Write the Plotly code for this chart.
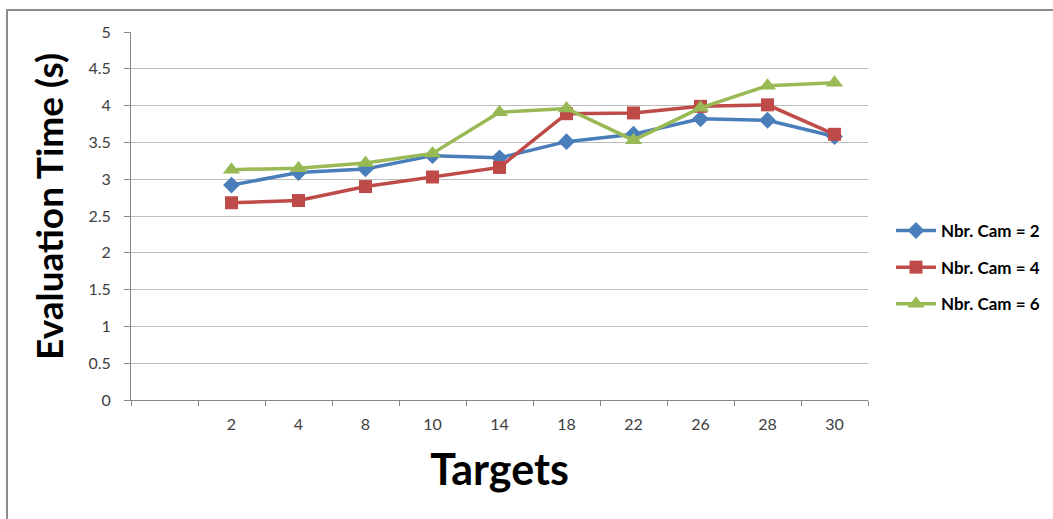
import plotly.graph_objects as go

# Category axis: a leading empty slot followed by the target counts
categories = [" ", "2", "4", "8", "10", "14", "18", "22", "26", "28", "30"]
targets = ["2", "4", "8", "10", "14", "18", "22", "26", "28", "30"]

# Evaluation time (s) per number of cameras
cam2 = [2.92, 3.09, 3.14, 3.32, 3.29, 3.51, 3.61, 3.82, 3.80, 3.58]
cam4 = [2.68, 2.71, 2.90, 3.03, 3.16, 3.89, 3.90, 3.99, 4.01, 3.61]
cam6 = [3.13, 3.15, 3.22, 3.35, 3.91, 3.96, 3.53, 3.97, 4.27, 4.31]

series = [
    ("Nbr. Cam = 2", cam2, "#4A7EBB", "diamond", 13),
    ("Nbr. Cam = 4", cam4, "#BE4B48", "square", 13),
    ("Nbr. Cam = 6", cam6, "#98B954", "triangle-up", 15),
]

fig = go.Figure()
for i, (name, vals, color, symbol, size) in enumerate(series):
    fig.add_trace(go.Scatter(
        x=targets, y=vals, name=name, mode="lines+markers",
        line=dict(color=color, width=3.5),
        marker=dict(symbol=symbol, size=size, color=color),
        legendgroup=f"g{i}",
    ))

W, H = 1053, 519
L, R, T, B = 131, 185, 32, 119
pw, ph = W - L - R, H - T - B

def px_x(x):
    return (x - L) / pw

def px_y(y):
    return (H - B - y) / ph

font_family = "Lato, 'Open Sans', sans-serif"

fig.update_layout(
    width=W, height=H,
    margin=dict(l=L, r=R, t=T, b=B, pad=0, autoexpand=False),
    paper_bgcolor="white", plot_bgcolor="white",
    font=dict(family=font_family, size=16, color="#404040"),
    showlegend=True,
    legend=dict(
        x=px_x(891), y=px_y(213), xanchor="left", yanchor="top",
        font=dict(size=17, color="#000000", family=font_family, weight="bold"),
        tracegroupgap=11.5, itemwidth=40, bgcolor="rgba(0,0,0,0)",
    ),
    xaxis=dict(
        type="category", categoryorder="array", categoryarray=categories,
        range=[-0.5, len(categories) - 0.5],
        tickson="boundaries", ticks="outside", ticklen=5, tickcolor="#868686",
        showline=True, linecolor="#868686", linewidth=1,
        showgrid=False, zeroline=False,
        ticklabelstandoff=10,
        tickfont=dict(size=16, color="#404040"),
        title=dict(text="Targets", font=dict(size=43, color="#000000", weight="bold"), standoff=22),
    ),
    yaxis=dict(
        range=[0, 5], dtick=0.5, tick0=0,
        ticks="outside", ticklen=6, tickcolor="#868686",
        showline=True, linecolor="#868686", linewidth=1,
        showgrid=True, gridcolor="#BEBEBE", gridwidth=1, zeroline=False,
        ticklabelstandoff=10,
        tickfont=dict(size=16, color="#404040"),
    ),
    annotations=[
        dict(text="<b>Evaluation Time (s)</b>", textangle=-90,
             xref="paper", yref="paper", x=px_x(49), y=px_y(207),
             xanchor="center", yanchor="middle", showarrow=False,
             font=dict(size=37, color="#000000", family=font_family)),
    ],
    shapes=[
        dict(type="rect", xref="paper", yref="paper",
             x0=px_x(7), x1=px_x(1070), y0=px_y(540), y1=px_y(10),
             line=dict(color="#8C8C8C", width=2), fillcolor="rgba(0,0,0,0)", layer="below"),
    ],
)

fig.write_html("out.html")
